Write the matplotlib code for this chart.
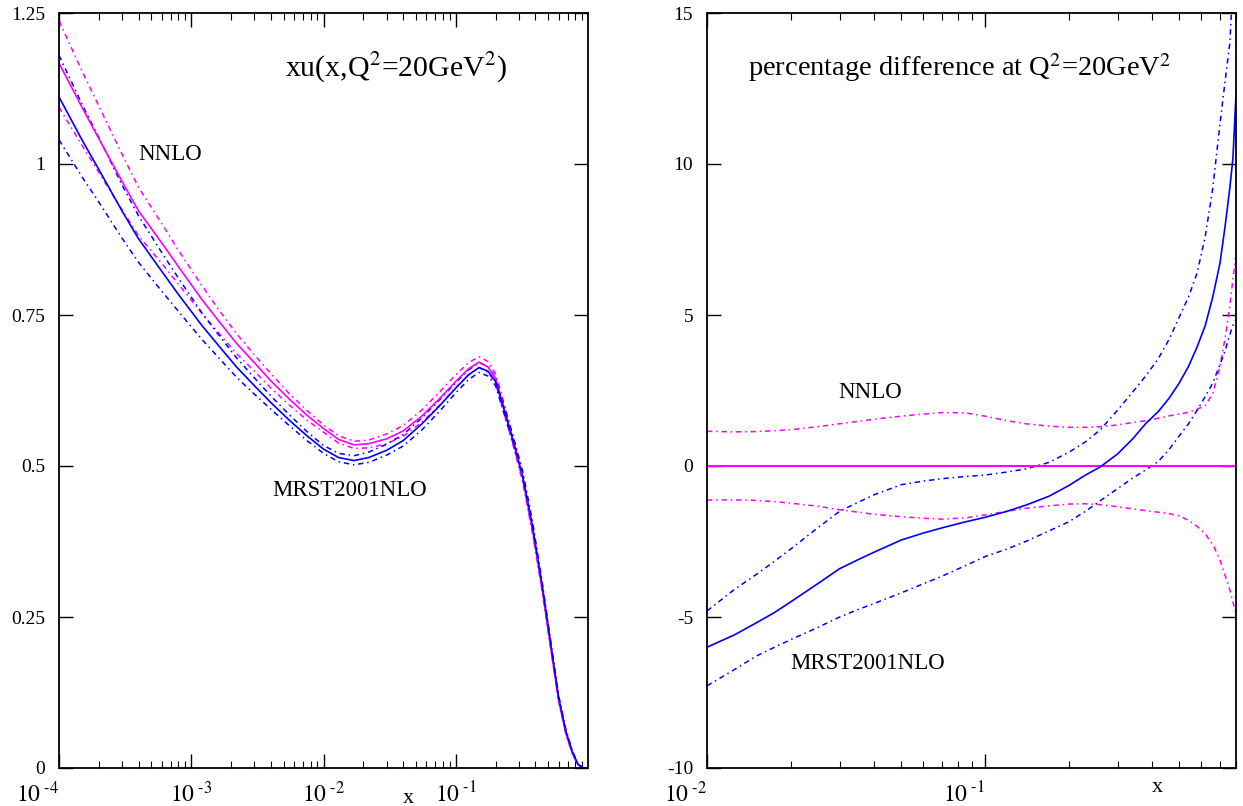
import numpy as np
import matplotlib
matplotlib.use("Agg")
import matplotlib.pyplot as plt
from matplotlib.ticker import LogLocator, NullFormatter

plt.rcParams['font.family'] = ['Liberation Serif', 'DejaVu Serif']
plt.rcParams['mathtext.fontset'] = 'stix'
plt.rcParams['axes.unicode_minus'] = False

# ---- left panel: xu(x, Q^2 = 20 GeV^2) ----
x_left = [1e-4, 1.5e-4, 2e-4, 3e-4, 4e-4, 6e-4, 8e-4, 1.2e-3, 1.6e-3, 2.2e-3, 3e-3, 4e-3,
          5.5e-3, 7.5e-3, 1e-2, 1.3e-2, 1.7e-2, 2.2e-2, 3e-2, 4e-2, 5.5e-2, 7.5e-2, 0.1,
          0.125, 0.15, 0.175, 0.2, 0.23, 0.27, 0.32, 0.38, 0.45, 0.52, 0.6, 0.68, 0.76,
          0.84, 0.92, 1.0]
nnlo = [1.167, 1.093, 1.042, 0.971, 0.922, 0.869, 0.830, 0.776, 0.741, 0.703, 0.671, 0.641,
        0.611, 0.584, 0.562, 0.544, 0.535, 0.537, 0.545, 0.558, 0.582, 0.611, 0.640,
        0.661, 0.672, 0.664, 0.645, 0.598, 0.543, 0.481, 0.395, 0.297, 0.203, 0.112, 0.058,
        0.025, 0.006, 0.0, 0.0]
nnlo_up = [1.237, 1.153, 1.096, 1.016, 0.961, 0.901, 0.857, 0.799, 0.760, 0.719, 0.684, 0.653,
           0.620, 0.592, 0.568, 0.550, 0.541, 0.543, 0.553, 0.567, 0.592, 0.622, 0.651,
           0.671, 0.681, 0.673, 0.653, 0.606, 0.550, 0.488, 0.401, 0.302, 0.207, 0.114, 0.060,
           0.026, 0.006, 0.0, 0.0]
nnlo_lo = [1.094, 1.030, 0.986, 0.924, 0.881, 0.835, 0.801, 0.753, 0.721, 0.686, 0.657, 0.629,
           0.601, 0.576, 0.556, 0.538, 0.529, 0.530, 0.537, 0.549, 0.572, 0.600, 0.630,
           0.651, 0.663, 0.655, 0.637, 0.590, 0.536, 0.474, 0.389, 0.292, 0.200, 0.110, 0.056,
           0.024, 0.006, 0.0, 0.0]
mrst = [1.111, 1.039, 0.991, 0.922, 0.876, 0.822, 0.784, 0.733, 0.700, 0.664, 0.633, 0.605,
        0.576, 0.550, 0.528, 0.514, 0.509, 0.514, 0.526, 0.542, 0.569, 0.599, 0.629,
        0.651, 0.663, 0.657, 0.640, 0.596, 0.544, 0.484, 0.401, 0.303, 0.209, 0.116, 0.061,
        0.027, 0.006, 0.0, 0.0]
mrst_up = [1.180, 1.098, 1.044, 0.965, 0.914, 0.853, 0.811, 0.754, 0.718, 0.679, 0.646, 0.616,
           0.585, 0.557, 0.534, 0.521, 0.517, 0.523, 0.536, 0.552, 0.579, 0.609, 0.638,
           0.659, 0.671, 0.665, 0.647, 0.603, 0.551, 0.492, 0.409, 0.308, 0.213, 0.120, 0.064,
           0.029, 0.007, 0.0, 0.0]
mrst_lo = [1.040, 0.978, 0.937, 0.877, 0.837, 0.789, 0.756, 0.710, 0.680, 0.647, 0.619, 0.594,
           0.567, 0.542, 0.521, 0.507, 0.502, 0.506, 0.518, 0.533, 0.559, 0.590, 0.621,
           0.643, 0.655, 0.649, 0.633, 0.589, 0.539, 0.480, 0.395, 0.299, 0.206, 0.114, 0.060,
           0.026, 0.006, 0.0, 0.0]

# ---- right panel: percentage difference ----
x_right = [0.01, 0.0125, 0.015, 0.0175, 0.02, 0.025, 0.03, 0.035, 0.04, 0.05, 0.06, 0.07,
           0.085, 0.1, 0.12, 0.14, 0.17, 0.2, 0.23, 0.26, 0.3, 0.34, 0.38, 0.42, 0.46, 0.5,
           0.54, 0.58, 0.62, 0.66, 0.7, 0.73, 0.76, 0.78, 0.8]
nnlo_pct = [0.0] * len(x_right)
nnlo_up_pct = [1.15, 1.13, 1.14, 1.17, 1.2, 1.3, 1.4, 1.48, 1.55, 1.65, 1.72, 1.77,
               1.76, 1.65, 1.5, 1.4, 1.32, 1.28, 1.28, 1.3, 1.36, 1.44, 1.5, 1.58, 1.66, 1.72,
               1.78, 1.88, 2.0, 2.4, 3.3, 4.2, 5.3, 6.2, 7.0]
nnlo_lo_pct = [-1.13, -1.12, -1.14, -1.18, -1.23, -1.33, -1.45, -1.53, -1.6, -1.68, -1.73, -1.76,
               -1.72, -1.62, -1.5, -1.4, -1.32, -1.26, -1.25, -1.28, -1.35, -1.42, -1.48, -1.53,
               -1.58, -1.65, -1.8, -2.0, -2.25, -2.6, -3.1, -3.6, -4.1, -4.5, -4.9]
mrst_pct = [-6.0, -5.6, -5.2, -4.85, -4.5, -3.9, -3.4, -3.1, -2.85, -2.45, -2.22, -2.05,
            -1.85, -1.7, -1.5, -1.3, -1.0, -0.65, -0.3, -0.03, 0.4, 0.9, 1.42, 1.8, 2.25, 2.75,
            3.3, 3.95, 4.65, 5.6, 6.7, 7.9, 9.2, 10.2, 12.3]
mrst_up_pct = [-4.8, -4.1, -3.6, -3.15, -2.75, -2.05, -1.5, -1.2, -0.95, -0.62, -0.5, -0.42,
               -0.35, -0.3, -0.2, -0.1, 0.12, 0.45, 0.8, 1.2, 1.85, 2.45, 3.0, 3.55, 4.2, 4.93,
               5.6, 6.4, 7.6, 9.2, 11.3, 12.7, 14.0, 16.0, 19.0]
mrst_lo_pct = [-7.28, -6.75, -6.3, -6.0, -5.75, -5.35, -5.0, -4.75, -4.55, -4.2, -3.9, -3.65,
               -3.3, -3.0, -2.75, -2.5, -2.15, -1.85, -1.5, -1.15, -0.75, -0.4, -0.12, 0.15,
               0.55, 1.0, 1.4, 1.85, 2.3, 2.75, 3.35, 3.8, 4.35, 4.65, 4.85]

MAG = '#ff00ff'
BLU = '#0000ff'
DASHDOT = (0, (3.5, 2.5, 1, 2.5))

fig = plt.figure(figsize=(12.43, 8.06), dpi=100)
axL = fig.add_axes([59 / 1243, 38 / 806, 529 / 1243, 755 / 806])
axR = fig.add_axes([707 / 1243, 38 / 806, 529 / 1243, 755 / 806])

axL.plot(x_left, nnlo_up, color=MAG, lw=1.1, ls=DASHDOT)
axL.plot(x_left, nnlo_lo, color=MAG, lw=1.1, ls=DASHDOT)
axL.plot(x_left, mrst_up, color=BLU, lw=1.1, ls=DASHDOT)
axL.plot(x_left, mrst_lo, color=BLU, lw=1.1, ls=DASHDOT)
axL.plot(x_left, nnlo, color=MAG, lw=1.2)
axL.plot(x_left, mrst, color=BLU, lw=1.2)

axR.plot(x_right, nnlo_up_pct, color=MAG, lw=1.1, ls=DASHDOT)
axR.plot(x_right, nnlo_lo_pct, color=MAG, lw=1.1, ls=DASHDOT)
axR.plot(x_right, mrst_up_pct, color=BLU, lw=1.1, ls=DASHDOT)
axR.plot(x_right, mrst_lo_pct, color=BLU, lw=1.1, ls=DASHDOT)
axR.plot(x_right, nnlo_pct, color=MAG, lw=1.5)
axR.plot(x_right, mrst_pct, color=BLU, lw=1.2)

for ax in (axL, axR):
    ax.set_xscale('log')
    ax.xaxis.set_minor_locator(LogLocator(base=10, subs=np.arange(2, 10)))
    ax.xaxis.set_minor_formatter(NullFormatter())
    ax.tick_params(which='both', direction='in', top=True, right=True, labelsize=14)
    ax.tick_params(which='major', length=10, width=1.0)
    ax.tick_params(which='minor', length=5, width=0.8)
    ax.tick_params(axis='x', pad=10, labelsize=17)
    ax.tick_params(axis='y', pad=10)
    for s in ax.spines.values():
        s.set_linewidth(1.3)

axL.set_xlim(1e-4, 1.0)
axL.set_ylim(0, 1.25)
axL.set_xticks([1e-4, 1e-3, 1e-2, 1e-1])
axL.set_xticklabels([r'$10^{\ \text{-4}}$', r'$10^{\ \text{-3}}$',
                     r'$10^{\ \text{-2}}$', r'$10^{\ \text{-1}}$'])
axL.set_yticks([0, 0.25, 0.5, 0.75, 1.0, 1.25])
axL.set_yticklabels(['0', '0.25', '0.5', '0.75', '1', '1.25'])
axL.get_xticklabels()[0].set_ha('right')

axR.set_xlim(0.01, 0.8)
axR.set_ylim(-10, 15)
axR.set_xticks([1e-2, 1e-1])
axR.set_xticklabels([r'$10^{\ \text{-2}}$', r'$10^{\ \text{-1}}$'])
for lab in axR.get_xticklabels():
    lab.set_ha('right')
axR.set_yticks([-10, -5, 0, 5, 10, 15])

axL.text(0.427, 0.927, r'xu(x,Q$^2$=20GeV$^2$)', transform=axL.transAxes,
         fontsize=21.5, ha='left', va='center')
axL.text(0.149, 0.812, 'NNLO', transform=axL.transAxes, fontsize=16.5, ha='left', va='center')
axL.text(0.403, 0.368, 'MRST2001NLO', transform=axL.transAxes, fontsize=16.5, ha='left', va='center')
axL.text(0.66, -0.04, 'x', transform=axL.transAxes, fontsize=16, ha='center', va='center')

axR.text(0.078, 0.928, r'percentage difference at Q$^2$=20GeV$^2$', transform=axR.transAxes,
         fontsize=20.5, ha='left', va='center')
axR.text(0.248, 0.497, 'NNLO', transform=axR.transAxes, fontsize=16.5, ha='left', va='center')
axR.text(0.157, 0.139, 'MRST2001NLO', transform=axR.transAxes, fontsize=16.5, ha='left', va='center')
axR.text(0.852, -0.026, 'x', transform=axR.transAxes, fontsize=16, ha='center', va='center')

fig.savefig('out.png', dpi=100)
